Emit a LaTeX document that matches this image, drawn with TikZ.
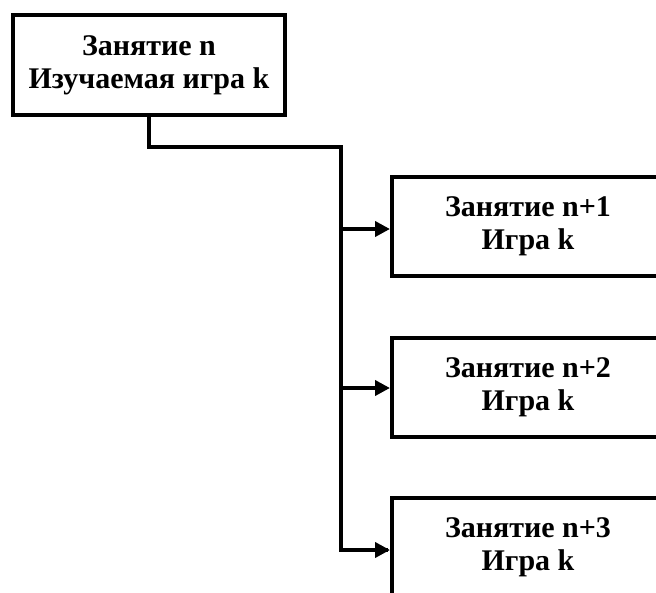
\documentclass[tikz,border=0pt]{standalone}
\usepackage{fontspec}
\setmainfont{Liberation Serif}
\usetikzlibrary{arrows.meta}
\begin{document}
\begin{tikzpicture}[x=1pt,y=-1pt,
  boxnode/.style={draw=black,line width=4pt,rectangle,minimum width=272pt,minimum height=99pt,align=center,inner sep=0pt,
    font=\fontsize{30}{33}\selectfont\bfseries},
  conn/.style={draw=black,line width=4pt},
  arr/.style={conn,-{Triangle[length=15pt,width=15pt]}}]
\useasboundingbox (0,0) rectangle (656,592);
\clip (0,0) rectangle (656,592);
\node[boxnode,minimum height=100pt] (top) at (149,65) {Занятие n\\Изучаемая игра k};
\node[boxnode] (n1) at (528,226) {Занятие n+1\\Игра k};
\node[boxnode] (n2) at (528,387) {Занятие n+2\\Игра k};
\node[boxnode] (n3) at (528,547) {Занятие n+3\\Игра k};
\coordinate (bend) at (341,147);
\coordinate (a1) at ([yshift=-3pt]n1.west);
\coordinate (a2) at ([yshift=-1pt]n2.west);
\coordinate (a3) at ([yshift=-3pt]n3.west);
\draw[conn,line join=miter] (top.south) |- (bend) -- (bend |- a3) -- ([xshift=-2pt]a3);
\draw[arr] (bend |- a1) -- (a1);
\draw[arr] (bend |- a2) -- (a2);
\draw[arr] (bend |- a3) -- (a3);
\end{tikzpicture}
\end{document}
